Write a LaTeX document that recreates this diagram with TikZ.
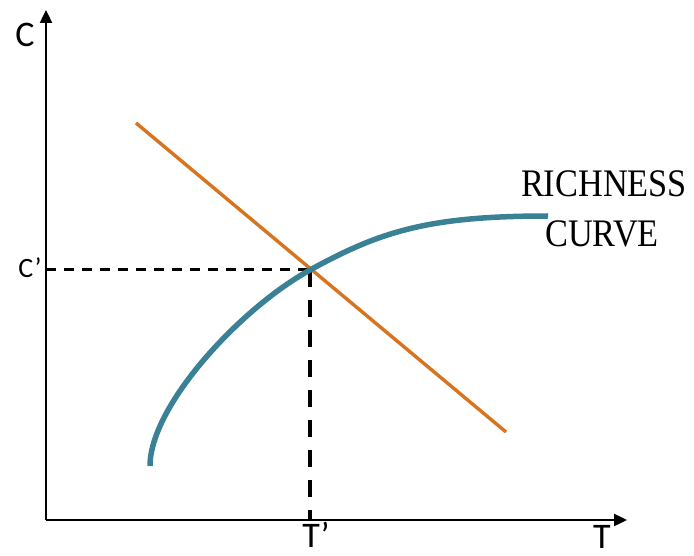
\documentclass[tikz,border=0pt]{standalone}
\usepackage{fontspec}
\setmainfont{Liberation Serif}
\newfontfamily\axisfont{Carlito}
\usetikzlibrary{arrows.meta}
\definecolor{budgetorange}{HTML}{D8731F}
\definecolor{richteal}{HTML}{3A8196}
\tikzset{
  axisline/.style={line width=2.4pt, -{Triangle[length=13pt,width=12pt]}},
  guideh/.style={line width=3pt, dash pattern=on 10pt off 8pt},
  guidev/.style={line width=3.2pt, dash pattern=on 17pt off 13pt},
  axislabel/.style={font=\axisfont\fontsize{36}{40}\selectfont, inner sep=0pt},
  smalllabel/.style={font=\axisfont\fontsize{28}{30}\selectfont, inner sep=0pt},
  curvelabel/.style={font=\fontsize{39}{50}\selectfont, align=center, inner sep=0pt, transform shape, xscale=0.88}
}
\begin{document}
\begin{tikzpicture}[x=1pt,y=-1pt]
  \useasboundingbox (0,0) rectangle (694,556);
  \coordinate (O) at (46,520);
  \coordinate (ytip) at (46,10);
  \coordinate (xtip) at (627,520);
  \coordinate (P) at (310,270);
  \coordinate (Cp) at (46,270);
  \coordinate (Tp) at (310,520);
  \coordinate (ostart) at (136,123);
  \coordinate (oend) at (506,432);
  \coordinate (cstart) at (150,466);
  \coordinate (cend) at (548,216);

  % dashed guides
  \draw[guideh] (Cp) -- (P);
  \draw[guidev] (P) -- (Tp);

  % curves
  \draw[budgetorange, line width=3.4pt] (ostart) -- (oend);
  \draw[richteal, line width=5.5pt] (cstart) .. controls (150,406) and (240,308.5) .. (P)
        .. controls (380,231.5) and (428,216) .. (cend);

  % axes
  \draw[axisline] (O) -- (ytip);
  \draw[axisline] (O) -- (xtip);

  % labels
  \node[axislabel, anchor=base] (Clab) at (25,47) {C};
  \node[axislabel, anchor=base] (Tlab) at (602,548) {T};
  \node[smalllabel, anchor=base] (Cprime) at (30,278) {C’};
  \node[axislabel, anchor=base] (Tprime) at (316,547) {T’};
  \node[curvelabel, anchor=base] (rich) at (604,197) {RICHNESS};
  \node[curvelabel, anchor=base] (curve) at (602,247) {CURVE};
\end{tikzpicture}
\end{document}
